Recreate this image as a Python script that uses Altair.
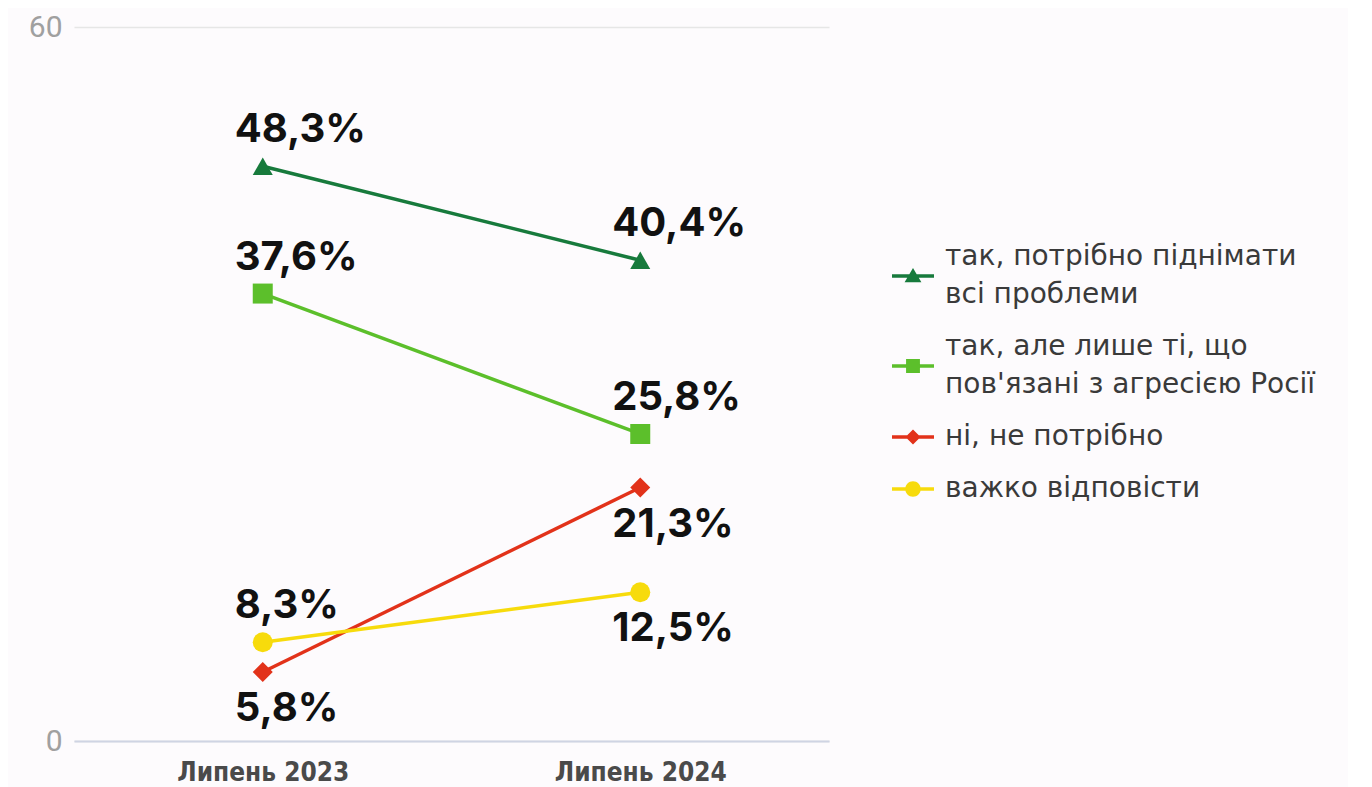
import altair as alt
import pandas as pd

periods = ["Липень 2023", "Липень 2024"]
series = [
    "так, потрібно піднімати\nвсі проблеми",
    "так, але лише ті, що\nпов'язані з агресією Росії",
    "ні, не потрібно",
    "важко відповісти",
]
values_all = [48.3, 40.4]
values_russia = [37.6, 25.8]
values_no = [5.8, 21.3]
values_hard = [8.3, 12.5]
series_values = [values_all, values_russia, values_no, values_hard]

# label placement (style): True = label under the point
label_below = [[False, False], [False, False], [True, True], [False, True]]

colors = ["#177a3c", "#5cbf2b", "#e2321a", "#f7db0c"]
shapes = ["triangle-up", "square", "diamond", "circle"]
sizes = [400, 400, 290, 400]
# legend symbols: line + marker; two-line entries are shifted down half a line
legend_paths = [
    "M-1,0.825H1V0.985H-1Z M0,0.525L0.4,1.205H-0.4Z",
    "M-1,0.825H1V0.985H-1Z M-0.33,0.575H0.33V1.235H-0.33Z",
    "M-1,-0.08H1V0.08H-1Z M0,-0.36L0.36,0L0,0.36L-0.36,0Z",
    "M-1,-0.08H1V0.08H-1Z M-0.37,0A0.37,0.37 0 1,1 0.37,0A0.37,0.37 0 1,1 -0.37,0Z",
]

rows = []
for s, vals, below in zip(series, series_values, label_below):
    for p, v, b in zip(periods, vals, below):
        rows.append({
            "series": s,
            "period": p,
            "value": v,
            "label": f"{v:.1f}".replace(".", ",") + "%",
            "below": b,
        })
df = pd.DataFrame(rows)

base = alt.Chart(df)

x = alt.X(
    "period:N", sort=periods,
    scale=alt.Scale(type="point", padding=0.5),
    axis=alt.Axis(title=None, labelAngle=0, ticks=False, domain=True,
                  domainColor="#cfd4e3", domainWidth=2, grid=False,
                  labelFont="Liberation Sans Narrow, DejaVu Sans Condensed, Roboto",
                  labelFontSize=26, labelFontWeight="bold", labelColor="#4a4a4a",
                  labelPadding=18),
)
y = alt.Y(
    "value:Q",
    scale=alt.Scale(domain=[0, 60], nice=False),
    axis=alt.Axis(title=None, values=[0, 60], ticks=False, domain=False,
                  gridColor="#e6e6e6", gridWidth=1.5, labelColor="#a0a0a0",
                  labelFont="Roboto", labelFontSize=30, labelPadding=12),
)
color_plain = alt.Color("series:N", sort=series,
                        scale=alt.Scale(domain=series, range=colors), legend=None)

lines = base.mark_line(strokeWidth=3.5).encode(x=x, y=y, color=color_plain)

points = base.mark_point(filled=True, opacity=1).encode(
    x=x, y=y, color=color_plain,
    shape=alt.Shape("series:N", scale=alt.Scale(domain=series, range=shapes), legend=None),
    size=alt.Size("series:N", scale=alt.Scale(domain=series, range=sizes), legend=None),
)

leg = dict(
    title=None, orient="none", legendX=818, legendY=209,
    labelExpr="split(datum.label, '\\n')",
    labelFont="DejaVu Sans", labelFontSize=28, labelColor="#3a3a3a",
    labelLimit=0, labelOffset=11, symbolSize=1764, symbolStrokeWidth=0,
    symbolOpacity=1, rowPadding=17,
)
legend_layer = base.mark_point(filled=True, opacity=0).encode(
    x=x, y=y,
    color=alt.Color("series:N", sort=series,
                    scale=alt.Scale(domain=series, range=colors), legend=alt.Legend(**leg)),
    shape=alt.Shape("series:N", sort=series,
                    scale=alt.Scale(domain=series, range=legend_paths), legend=alt.Legend(**leg)),
)

text_style = dict(font="Inter", fontSize=40, fontWeight="bold", color="#111111",
                  align="left", baseline="middle", dx=-28)
labels_above = base.mark_text(dy=-36, **text_style).encode(
    x=x, y=y, text="label:N").transform_filter("!datum.below")
labels_below = base.mark_text(dy=37, **text_style).encode(
    x=x, y=y, text="label:N").transform_filter("datum.below")

chart = alt.layer(lines, points, legend_layer, labels_above, labels_below).resolve_scale(
    color="independent", shape="independent", size="independent"
).properties(
    width=755, height=714,
    padding={"left": 20, "top": 4, "right": 32, "bottom": 5},
    background="#fdfbfd",
).configure(
    style={"guide-label": {"lineHeight": 38}}
).configure_view(stroke=None)

chart.save("out.html", embed_options={"renderer": "svg", "actions": False})
